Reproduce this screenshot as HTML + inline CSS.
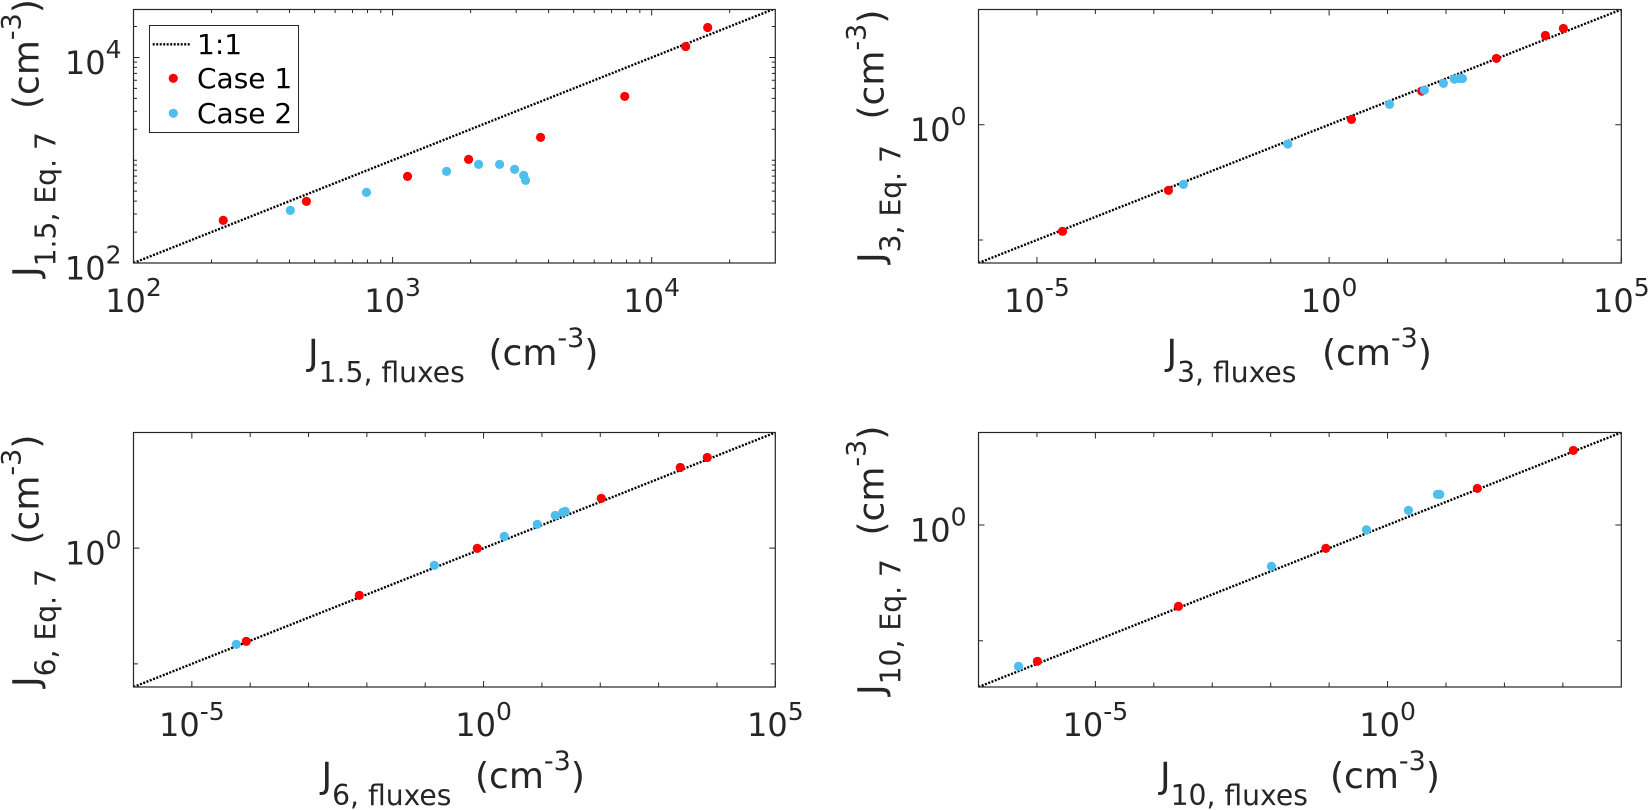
<!DOCTYPE html>
<html lang="en">
<head>
<meta charset="utf-8">
<title>J moments: fluxes vs Eq. 7</title>
<style>
html,body{margin:0;padding:0;background:#fff;width:1648px;height:810px;overflow:hidden}
svg{display:block}
text{font-family:"DejaVu Sans","Liberation Sans",sans-serif;fill:#262626}
.main{font-size:36px}
.sub{font-size:28.2px}
.sup{font-size:27px}
.tick{font-size:32px}
.tick .sup{font-size:25px}
.leg{font-size:28px;fill:#000}
</style>
</head>
<body>
<svg id="fig" width="1648" height="810" viewBox="0 0 1648 810" xmlns="http://www.w3.org/2000/svg">
  <g id="panel-1"></g>
  <g id="panel-2"></g>
  <g id="panel-3"></g>
  <g id="panel-4"></g>

  <text class="main" x="308" y="365">J<tspan class="sub" dy="17">1.5, fluxes</tspan></text>
  <text class="main" x="488.5" y="365">(cm<tspan class="sup" dy="-18">-3</tspan><tspan dy="18">)</tspan></text>
  <text class="main" transform="translate(38.5,277) rotate(-90)">J<tspan class="sub" dy="17">1.5, Eq. 7</tspan></text>
  <text class="main" transform="translate(38.5,109) rotate(-90)">(cm<tspan class="sup" dy="-18">-3</tspan><tspan dy="18">)</tspan></text>

  <text class="main" x="1166.5" y="365">J<tspan class="sub" dy="17">3, fluxes</tspan></text>
  <text class="main" x="1322" y="365">(cm<tspan class="sup" dy="-18">-3</tspan><tspan dy="18">)</tspan></text>
  <text class="main" transform="translate(883.5,263) rotate(-90)">J<tspan class="sub" dy="17">3, Eq. 7</tspan></text>
  <text class="main" transform="translate(883.5,119.5) rotate(-90)">(cm<tspan class="sup" dy="-18">-3</tspan><tspan dy="18">)</tspan></text>

  <text class="main" x="321.5" y="788">J<tspan class="sub" dy="17">6, fluxes</tspan></text>
  <text class="main" x="475" y="788">(cm<tspan class="sup" dy="-18">-3</tspan><tspan dy="18">)</tspan></text>
  <text class="main" transform="translate(38.5,687) rotate(-90)">J<tspan class="sub" dy="17">6, Eq. 7</tspan></text>
  <text class="main" transform="translate(38.5,544.5) rotate(-90)">(cm<tspan class="sup" dy="-18">-3</tspan><tspan dy="18">)</tspan></text>

  <text class="main" x="1160" y="788">J<tspan class="sub" dy="17">10, fluxes</tspan></text>
  <text class="main" x="1330" y="788">(cm<tspan class="sup" dy="-18">-3</tspan><tspan dy="18">)</tspan></text>
  <text class="main" transform="translate(883.5,695) rotate(-90)">J<tspan class="sub" dy="17">10, Eq. 7</tspan></text>
  <text class="main" transform="translate(883.5,535.5) rotate(-90)">(cm<tspan class="sup" dy="-18">-3</tspan><tspan dy="18">)</tspan></text>

  <g>
    <rect x="149.5" y="25.5" width="149" height="107" fill="#fff" stroke="#262626" stroke-width="1"></rect>
    <line x1="152.7" y1="44.3" x2="191" y2="44.3" stroke="#000" stroke-width="2.4" stroke-dasharray="2 1.5"></line>
    <text class="leg" x="197" y="54">1:1</text>
    <circle cx="173.3" cy="78.3" r="4.6" fill="#ff0000"></circle>
    <text class="leg" x="197" y="88">Case 1</text>
    <circle cx="173.3" cy="113.3" r="4.6" fill="#4dbeee"></circle>
    <text class="leg" x="197" y="123">Case 2</text>
  </g>
</svg>
<script>
// Panel 1: J 1.5
const p1Case1X = [222, 465, 1142, 1965, 3726, 7870, 13530, 16450];
const p1Case1Y = [260, 398, 697, 1019, 1668, 4178, 12800, 19590];
const p1Case2X = [403, 793, 1616, 2148, 2588, 2958, 3206, 3260];
const p1Case2Y = [325, 487, 780, 912, 912, 815, 713, 637];
const p1XMajor = [100, 1000, 10000];
const p1XMinor = [200, 300, 400, 500, 600, 700, 800, 900, 2000, 3000, 4000, 5000, 6000, 7000, 8000, 9000, 20000];
const p1YMajor = [100, 10000];
const p1YMinor = [200, 300, 400, 500, 600, 700, 800, 900, 1000, 2000, 3000, 4000, 5000, 6000, 7000, 8000, 9000, 20000];
const p1XLabels = ["2", "3", "4"];
const p1YLabels = ["2", "4"];

// Panel 2: J 3
const p2Case1X = [2.74e-5, 1.78e-3, 2.41, 38.5, 728, 5020, 10200];
const p2Case1Y = [2.37e-5, 1.42e-3, 1.71, 28.8, 753, 7480, 15100];
const p2Case2X = [3.21e-3, 0.196, 10.8, 42.7, 90.4, 139, 174, 191];
const p2Case2Y = [2.59e-3, 0.145, 7.62, 31.8, 62.1, 95.3, 102, 102];
const p2XMajor = [1e-5, 1, 1e5];
const p2XMinor = [1e-4, 1e-3, 1e-2, 1e-1, 10, 100, 1e3, 1e4];
const p2YMajor = [1];
const p2YMinor = [1e-5];
const p2XLabels = ["-5", "0", "5"];
const p2YLabels = ["0"];

// Panel 3: J 6
const p3Case1X = [8.57e-5, 7.41e-3, 0.78, 104, 2350, 6820];
const p3Case1Y = [9.42e-5, 9.14e-3, 0.98, 142, 3090, 8360];
const p3Case2X = [5.78e-5, 0.143, 2.26, 8.32, 16.9, 22.7, 25.1];
const p3Case2Y = [7.0e-5, 0.181, 3.24, 10.7, 26.1, 35.2, 38.9];
const p3XMajor = [1e-5, 1, 1e5];
const p3XMinor = [1e-4, 1e-3, 1e-2, 1e-1, 10, 100, 1e3, 1e4];
const p3YMajor = [1];
const p3YMinor = [1e-5];
const p3XLabels = ["-5", "0", "5"];
const p3YLabels = ["0"];

// Panel 4: J 10
const p4Case1X = [1.02e-6, 2.64e-4, 0.0879, 34.4, 1510];
const p4Case1Y = [1.29e-6, 3.06e-4, 0.098, 38.3, 1680];
const p4Case2X = [4.83e-7, 0.0103, 0.435, 2.28, 7.13, 7.83];
const p4Case2Y = [7.83e-7, 0.0164, 0.624, 4.30, 21.1, 21.1];
const p4XMajor = [1e-5, 1];
const p4XMinor = [1e-6, 1e-4, 1e-3, 1e-2, 1e-1, 10, 100, 1e3];
const p4YMajor = [1];
const p4YMinor = [1e-5];
const p4XLabels = ["-5", "0"];
const p4YLabels = ["0"];

const SVG_NS = "http://www.w3.org/2000/svg";

function mk(parent, tag, attrs) {
  const el = document.createElementNS(SVG_NS, tag);
  for (const k in attrs) el.setAttribute(k, attrs[k]);
  parent.appendChild(el);
  return el;
}

function logScale(dMin, dMax, pA, pB) {
  return function (v) {
    return pA + (Math.log10(v) - Math.log10(dMin)) / (Math.log10(dMax) - Math.log10(dMin)) * (pB - pA);
  };
}

function tickLabel(parent, x, y, anchor, exponent) {
  const t = mk(parent, "text", { x: x, y: y, "text-anchor": anchor, "class": "tick" });
  
  
  const base = mk(t, "tspan", {});
  base.textContent = "10";
  const sup = mk(t, "tspan", { "class": "sup", dy: -16 });
  sup.textContent = exponent;
}

function drawPanel(cfg) {
  const g = document.getElementById(cfg.id);
  const sx = logScale(cfg.xDom[0], cfg.xDom[1], cfg.left, cfg.right);
  const sy = logScale(cfg.yDom[0], cfg.yDom[1], cfg.bottom, cfg.top);
  const clipId = cfg.id + "-clip";

  const defs = mk(g, "defs", {});
  const cp = mk(defs, "clipPath", { id: clipId });
  mk(cp, "rect", { x: cfg.left, y: cfg.top, width: cfg.right - cfg.left, height: cfg.bottom - cfg.top });

  function xTick(v, len) {
    const px = sx(v);
    const a = mk(g, "path", {
      d: "M" + px + " " + cfg.bottom + "v" + (-len) + "M" + px + " " + cfg.top + "v" + len,
      stroke: "#262626", "stroke-width": 1, fill: "none"
    });
    
    
  }
  function yTick(v, len) {
    const py = sy(v);
    const a = mk(g, "path", {
      d: "M" + cfg.left + " " + py + "h" + len + "M" + cfg.right + " " + py + "h" + (-len),
      stroke: "#262626", "stroke-width": 1, fill: "none"
    });
    
    
  }
  cfg.xMinor.forEach(function (v) { xTick(v, cfg.minorLen); });
  cfg.yMinor.forEach(function (v) { yTick(v, cfg.yMinorLen); });
  cfg.xMajor.forEach(function (v) { xTick(v, 6); });
  cfg.yMajor.forEach(function (v) { yTick(v, 6); });

  const oneToOne = mk(g, "line", {
    x1: sx(cfg.xDom[0]), y1: sy(cfg.xDom[0]), x2: sx(cfg.xDom[1]), y2: sy(cfg.xDom[1]),
    stroke: "#000", "stroke-width": 2.4, "stroke-dasharray": "2 1.5", "clip-path": "url(#" + clipId + ")"
  });
  
  

  cfg.case1X.forEach(function (v, i) {
    const c = mk(g, "circle", { cx: sx(v), cy: sy(cfg.case1Y[i]), r: 4.6, fill: "#ff0000" });
    
    
  });
  cfg.case2X.forEach(function (v, i) {
    const c = mk(g, "circle", { cx: sx(v), cy: sy(cfg.case2Y[i]), r: 4.6, fill: "#4dbeee" });
    
    
  });

  const box = mk(g, "rect", {
    x: cfg.left, y: cfg.top, width: cfg.right - cfg.left, height: cfg.bottom - cfg.top,
    fill: "none", stroke: "#262626", "stroke-width": 1.2
  });
  
  

  cfg.xMajor.forEach(function (v, i) {
    tickLabel(g, sx(v), cfg.bottom + 49, "middle", cfg.xLabels[i]);
  });
  cfg.yMajor.forEach(function (v, i) {
    tickLabel(g, cfg.left - 12, sy(v) + 16.5, "end", cfg.yLabels[i]);
  });
}

drawPanel({
  id: "panel-1", left: 133.5, right: 775.3, top: 9.5, bottom: 263,
  xDom: [100, 30000], yDom: [100, 29300], minorLen: 3.5, yMinorLen: 3.5,
  case1X: p1Case1X, case1Y: p1Case1Y, case2X: p1Case2X, case2Y: p1Case2Y,
  xMajor: p1XMajor, xMinor: p1XMinor, yMajor: p1YMajor, yMinor: p1YMinor,
  xLabels: p1XLabels, yLabels: p1YLabels
});
drawPanel({
  id: "panel-2", left: 978.5, right: 1621.3, top: 9.5, bottom: 263,
  xDom: [1e-6, 1e5], yDom: [1e-6, 1e5], minorLen: 4.5, yMinorLen: 4.5,
  case1X: p2Case1X, case1Y: p2Case1Y, case2X: p2Case2X, case2Y: p2Case2Y,
  xMajor: p2XMajor, xMinor: p2XMinor, yMajor: p2YMajor, yMinor: p2YMinor,
  xLabels: p2XLabels, yLabels: p2YLabels
});
drawPanel({
  id: "panel-3", left: 133.5, right: 775.3, top: 432.5, bottom: 687,
  xDom: [1e-6, 1e5], yDom: [1e-6, 1e5], minorLen: 4.5, yMinorLen: 4.5,
  case1X: p3Case1X, case1Y: p3Case1Y, case2X: p3Case2X, case2Y: p3Case2Y,
  xMajor: p3XMajor, xMinor: p3XMinor, yMajor: p3YMajor, yMinor: p3YMinor,
  xLabels: p3XLabels, yLabels: p3YLabels
});
drawPanel({
  id: "panel-4", left: 978.5, right: 1621.3, top: 432.5, bottom: 687,
  xDom: [1e-7, 1e4], yDom: [1e-7, 1e4], minorLen: 4.5, yMinorLen: 4.5,
  case1X: p4Case1X, case1Y: p4Case1Y, case2X: p4Case2X, case2Y: p4Case2Y,
  xMajor: p4XMajor, xMinor: p4XMinor, yMajor: p4YMajor, yMinor: p4YMinor,
  xLabels: p4XLabels, yLabels: p4YLabels
});
</script>
</body>
</html>
